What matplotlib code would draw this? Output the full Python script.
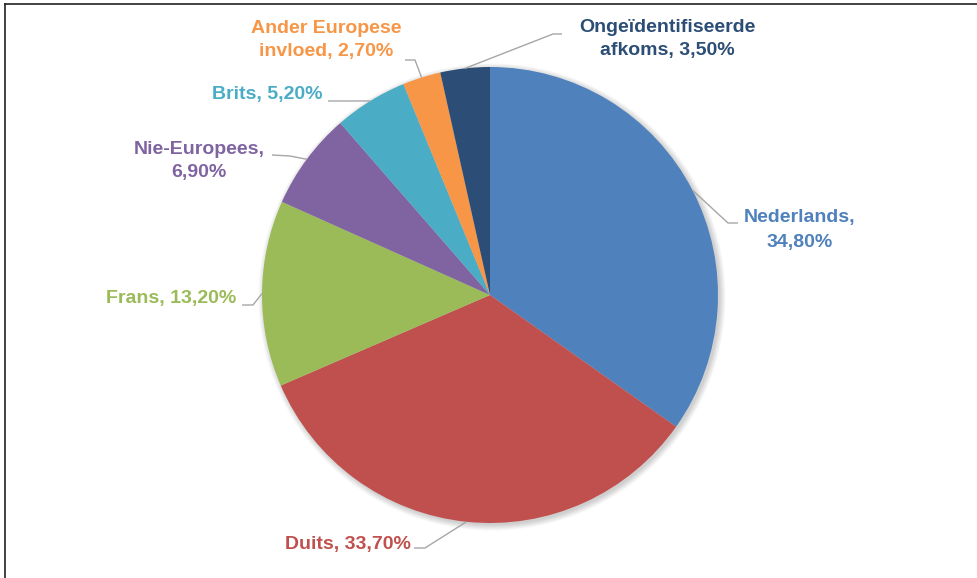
import matplotlib
matplotlib.use("Agg")
import matplotlib.pyplot as plt
import numpy as np

# data
labels = ["Nederlands", "Duits", "Frans", "Nie-Europees", "Brits",
          "Ander Europese\ninvloed", "Ongeïdentifiseerde\nafkoms"]
values = [34.8, 33.7, 13.2, 6.9, 5.2, 2.7, 3.5]
colors = ["#4F81BD", "#C0504D", "#9BBB59", "#8064A2", "#4BACC6", "#F79646", "#2C4D75"]

W, H = 977, 578
plt.rcParams['font.family'] = ['Liberation Sans', 'DejaVu Sans']

fig = plt.figure(figsize=(W / 100, H / 100), dpi=100)
ax = fig.add_axes([0, 0, 1, 1])
ax.set_xlim(0, W)
ax.set_ylim(0, H)
ax.set_aspect('equal')
ax.axis('off')


def Y(py):
    # pixel row -> data y
    return H - py


cx, cy, r = 490, Y(295), 228

# soft shadow behind the pie
for i in range(8):
    ax.add_patch(plt.Circle((cx + 2, cy - 2), r + i * 0.8, color='black',
                            alpha=0.025, lw=0, zorder=0))

wedges, _ = ax.pie(values, colors=colors, startangle=90, counterclock=False,
                   center=(cx, cy), radius=r, frame=True,
                   wedgeprops=dict(linewidth=0, zorder=2))
ax.set_xlim(0, W)
ax.set_ylim(0, H)
ax.axis('off')

# label layout in pixels: text centre, elbow, end of leader near text, line spacing
layout = [
    ((800, 230), (728, 223), (738, 223), 1.6),
    ((348, 545), (425, 548), (414, 548), 1.4),
    ((171, 299), (253, 305), (242, 305), 1.4),
    ((199, 161), (290, 156), (272, 155), 1.42),
    ((267, 95), (345, 101), (328, 101), 1.4),
    ((326, 40), (415, 60), (405, 60), 1.42),
    ((667, 39), (553, 34), (562, 34), 1.42),
]

for w, lab, val, col, (tpos, elbow, end, ls) in zip(wedges, labels, values, colors, layout):
    mid = np.deg2rad((w.theta1 + w.theta2) / 2)
    ex, ey = cx + r * np.cos(mid), cy + r * np.sin(mid)
    ax.plot([ex, elbow[0], end[0]], [ey, Y(elbow[1]), Y(end[1])],
            color='#A6A6A6', lw=1.0, zorder=3, solid_capstyle='butt')
    txt = f"{lab}, {val:.2f}%".replace('.', ',')
    if lab in ("Nederlands", "Nie-Europees"):
        txt = f"{lab},\n{val:.2f}%".replace('.', ',')
    ax.text(tpos[0], Y(tpos[1]), txt, color=col, fontsize=14, fontweight='bold',
            ha='center', va='center', linespacing=ls, zorder=4)

# frame lines (left and top only visible)
ax.plot([5, 5], [0, Y(4)], color='#222222', lw=1.2, zorder=5)
ax.plot([5, W], [Y(4), Y(4)], color='#222222', lw=1.2, zorder=5)

fig.savefig("out.png", dpi=100)
